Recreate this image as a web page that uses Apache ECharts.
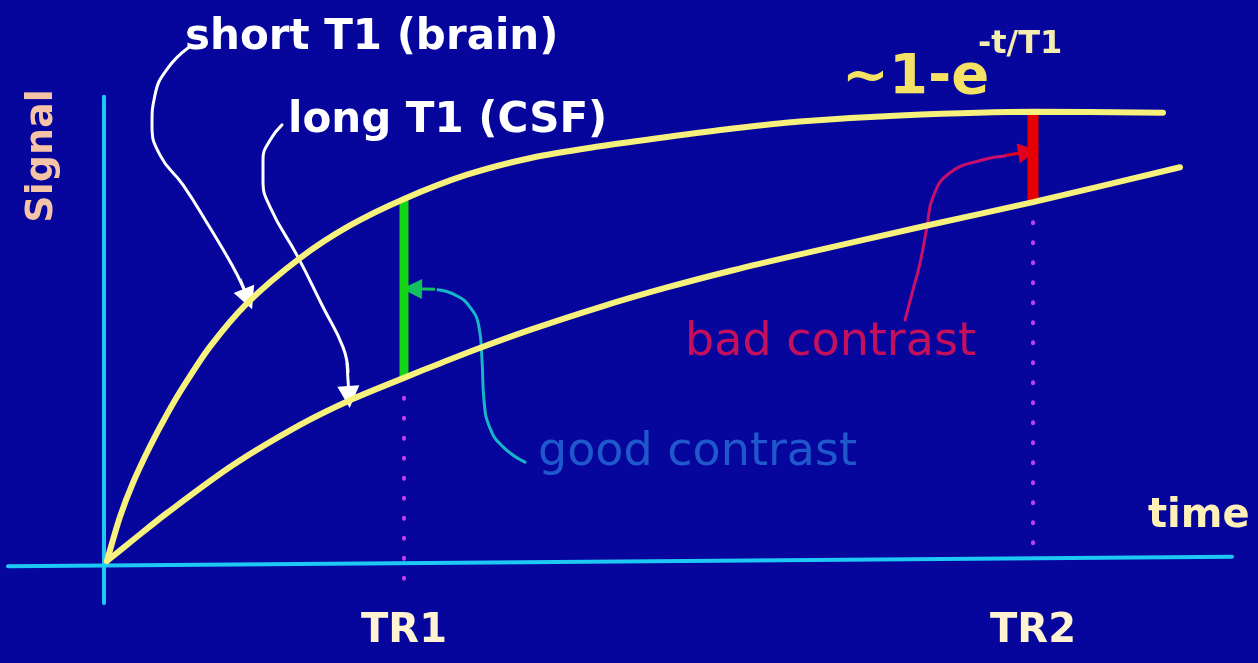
<!DOCTYPE html>
<html><head><meta charset="utf-8">
<script src="https://cdn.jsdelivr.net/npm/echarts@6/dist/echarts.min.js"></script>
<style>html,body{margin:0;padding:0;background:#06069c;}#c{width:1258px;height:663px;}</style>
</head><body><div id="c"></div>
<script>
// ---- data (time, signal) ----
const shortT1 = [[0,0],[0.13,0.095],[0.26,0.168],[0.43,0.246],[0.60,0.315],[0.76,0.373],[1.03,0.460],[1.40,0.553],[1.93,0.650],[2.43,0.720],[2.97,0.777],[3.60,0.829],[4.26,0.866],[4.93,0.890],[5.60,0.910],[6.26,0.928],[6.93,0.943],[7.93,0.956],[9.26,0.964],[10.56,0.962]];
const longT1 = [[0,0],[0.26,0.045],[0.60,0.103],[1.26,0.206],[1.93,0.292],[2.43,0.345],[2.97,0.393],[3.33,0.424],[3.70,0.455],[4.23,0.496],[4.93,0.545],[5.60,0.587],[6.26,0.624],[6.93,0.658],[8.20,0.720],[9.26,0.770],[10.73,0.845]];
const tickValues = [2.97, 9.26];
const tickLabels = ['TR1', 'TR2'];
const goodContrast = [[2.97,0.393],[2.97,0.777]];
const badContrast = [[9.26,0.770],[9.26,0.964]];
const tr1Guide = [[2.97,0.393],[2.97,-0.05]];
const tr2Guide = [[9.26,0.770],[9.26,0.0]];
const xAxisLine = [[-0.99,-0.011],[11.25,0.009]];
const yAxisLine = [[-0.03,-0.09],[-0.03,0.996]];
const arrowShort = [[0.81,1.101],[0.61,1.058],[0.48,1.000],[0.45,0.936],[0.53,0.871],[0.76,0.807],[1.03,0.715],[1.25,0.635],[1.36,0.588]];
const headShort = [[1.33,0.605],[1.41,0.562]];
const arrowLong = [[1.75,0.936],[1.63,0.903],[1.56,0.861],[1.56,0.818],[1.63,0.760],[1.91,0.652],[2.16,0.545],[2.36,0.459],[2.41,0.406]];
const headLong = [[2.40,0.425],[2.42,0.352]];
const arrowGood = [[4.18,0.212],[3.96,0.245],[3.83,0.285],[3.77,0.345],[3.75,0.431],[3.72,0.502],[3.63,0.545],[3.48,0.571],[3.31,0.582]];
const headGood = [[3.28,0.583],[3.05,0.584]];
const arrowBad = [[7.98,0.517],[8.06,0.582],[8.13,0.639],[8.20,0.717],[8.26,0.781],[8.43,0.833],[8.76,0.861],[8.98,0.869]];
const headBad = [[8.98,0.870],[9.21,0.878]];

const FONT = "'DejaVu Sans',sans-serif";
const chart = echarts.init(document.getElementById('c'), null, {renderer: 'canvas'});

function lineS(data, color, width, extra) {
  return Object.assign({type: 'line', data: data, symbol: 'none', silent: true, smooth: false,
    lineStyle: {color: color, width: width, cap: 'round'}}, extra || {});
}
function headS(pair, color, size) {
  return {type: 'lines', coordinateSystem: 'cartesian2d', silent: true, symbol: ['none', 'triangle'], symbolSize: size,
    lineStyle: {color: color, width: 3, opacity: 1}, data: [{coords: pair}]};
}

chart.setOption({
  animation: false,
  backgroundColor: '#06069c',
  grid: {left: 7, right: 21, top: 1.8, bottom: 8.8, outerBoundsMode: 'none', containLabel: false},
  xAxis: {type: 'value', min: -1, max: 11.3, offset: -93.2,
    axisLine: {show: false, onZero: false}, axisTick: {show: false}, splitLine: {show: false},
    axisLabel: {customValues: tickValues, margin: 51, fontSize: 40, fontWeight: 'bold', fontFamily: FONT, color: '#fff3d2',
      formatter: function (v) { for (let i = 0; i < tickValues.length; i++) { if (Math.abs(v - tickValues[i]) < 1e-6) return tickLabels[i]; } return ''; }}},
  yAxis: {type: 'value', min: -0.2, max: 1.2, show: false},
  graphic: [
    {type: 'text', left: 185, top: 17, style: {text: 'short T1 (brain)', font: 'bold 42px ' + FONT, fill: '#ffffff'}},
    {type: 'text', left: 288, top: 100, style: {text: 'long T1 (CSF)', font: 'bold 42px ' + FONT, fill: '#ffffff'}},
    {type: 'text', left: 842, top: 50, style: {text: '~1-e', font: 'bold 56px ' + FONT, fill: '#f5e264'}},
    {type: 'text', left: 978, top: 29, style: {text: '-t/T1', font: 'bold 32px ' + FONT, fill: '#f5ecb0'}},
    {type: 'text', left: 685, top: 320, style: {text: 'bad contrast', font: '46px ' + FONT, fill: '#c4105c'}},
    {type: 'text', left: 538, top: 430, style: {text: 'good contrast', font: '46px ' + FONT, fill: '#1f58cc'}},
    {type: 'text', left: 1148, top: 497, style: {text: 'time', font: 'bold 40px ' + FONT, fill: '#fff0b8'}},
    {type: 'text', x: 42, y: 156, rotation: Math.PI / 2, style: {text: 'Signal', font: 'bold 38px ' + FONT, fill: '#f5c3a5', align: 'center', verticalAlign: 'middle'}}
  ],
  series: [
    lineS(tr1Guide, '#c040f0', 3, {lineStyle: {color: '#c040f0', width: 4, type: [1, 19], cap: 'round'}}),
    lineS(tr2Guide, '#c040f0', 3, {lineStyle: {color: '#c040f0', width: 4, type: [1, 19], cap: 'round'}}),
    lineS(xAxisLine, '#1ec8f5', 4),
    lineS(yAxisLine, '#1ec8f5', 4),
    lineS(arrowShort, '#ffffff', 3, {smooth: true}),
    headS(headShort, '#ffffff', 22),
    lineS(arrowLong, '#ffffff', 3, {smooth: true}),
    headS(headLong, '#ffffff', 22),
    lineS(arrowGood, '#18b4c8', 3, {smooth: true}),
    headS(headGood, '#12c060', 20),
    lineS(arrowBad, '#c8106a', 3, {smooth: true}),
    headS(headBad, '#e00020', 20),
    lineS(goodContrast, '#14d414', 9, {lineStyle: {color: '#14d414', width: 9, cap: 'butt'}}),
    lineS(badContrast, '#e80000', 11, {lineStyle: {color: '#e80000', width: 11, cap: 'butt'}}),
    lineS(shortT1, '#f6f07c', 6, {smooth: 0.3}),
    lineS(longT1, '#f6f07c', 6, {smooth: 0.3})
  ]
});
</script></body></html>
